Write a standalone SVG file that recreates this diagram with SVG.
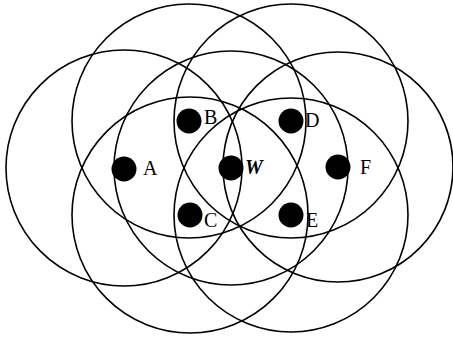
<svg xmlns="http://www.w3.org/2000/svg" width="453" height="338" viewBox="0 0 453 338">
<style>
.range{fill:none;stroke:#000;stroke-width:1.6}
.dot{fill:#000}
.lbl{font-family:"Liberation Serif","Times New Roman",serif;font-size:20px;fill:#000}
.it{font-style:italic;font-weight:bold}
</style>
<rect width="453" height="338" fill="#fff"/>
<g id="ranges">
<circle class="range" cx="124" cy="168" r="118"/>
<circle class="range" cx="189" cy="121" r="117"/>
<circle class="range" cx="190" cy="215" r="118"/>
<circle class="range" cx="231" cy="168" r="117"/>
<circle class="range" cx="291" cy="121" r="117"/>
<circle class="range" cx="291" cy="215" r="117"/>
<circle class="range" cx="338" cy="167" r="115"/>
</g>
<g id="node-A"><circle class="dot" cx="124" cy="169" r="12.5"/><text class="lbl" x="143" y="175">A</text></g>
<g id="node-B"><circle class="dot" cx="189" cy="121" r="12.5"/><text class="lbl" x="204" y="124">B</text></g>
<g id="node-C"><circle class="dot" cx="190" cy="215" r="12.5"/><text class="lbl" x="204" y="227">C</text></g>
<g id="node-W"><circle class="dot" cx="231" cy="168" r="12.5"/><text class="lbl it" x="245" y="174">W</text></g>
<g id="node-D"><circle class="dot" cx="291" cy="121" r="12.5"/><text class="lbl" x="305" y="127">D</text></g>
<g id="node-E"><circle class="dot" cx="291" cy="215" r="12.5"/><text class="lbl" x="306" y="227">E</text></g>
<g id="node-F"><circle class="dot" cx="338" cy="167" r="12.5"/><text class="lbl" x="360" y="174">F</text></g>
<g id="connectors"></g>
</svg>
